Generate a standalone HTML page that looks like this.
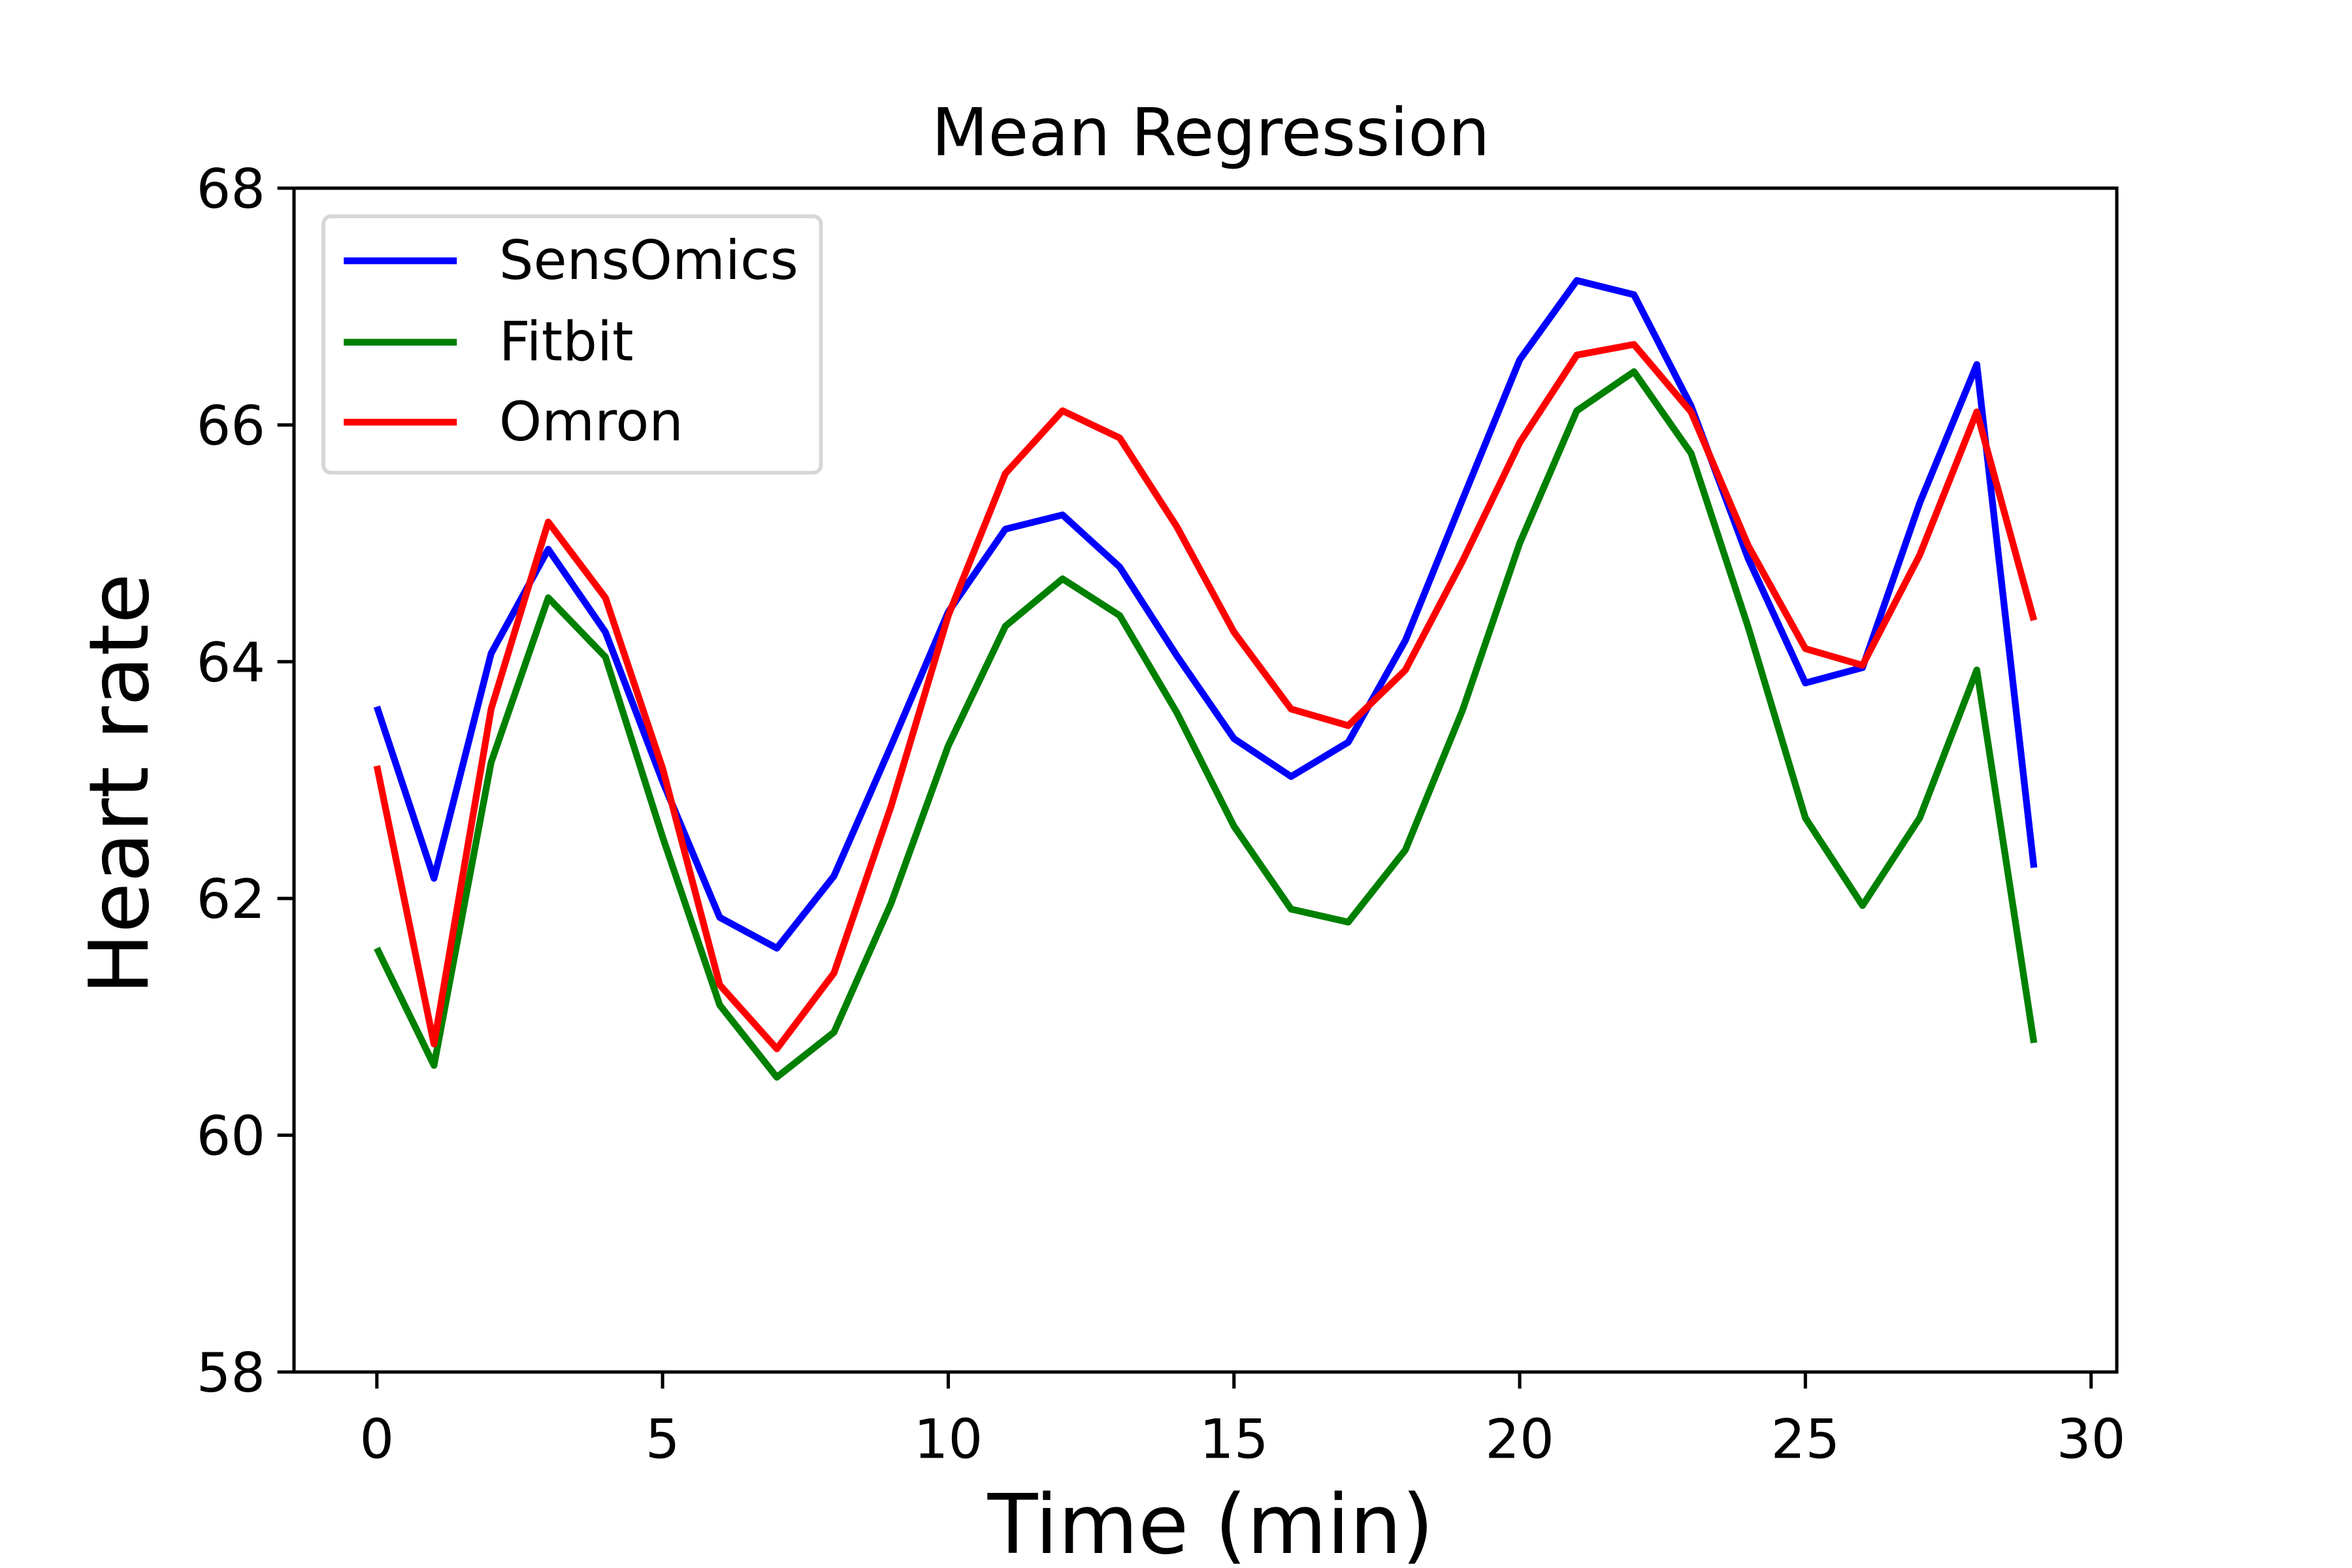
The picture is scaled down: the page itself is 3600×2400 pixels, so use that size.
<!DOCTYPE html>
<html><head><meta charset="utf-8"><style>
html,body{margin:0;padding:0;background:#fff;}
svg{display:block;}
text{font-family:"DejaVu Sans","Liberation Sans",sans-serif;fill:#000;}
</style></head><body>
<svg id="chart" width="3600" height="2400" viewBox="0 0 1560 1040" xmlns="http://www.w3.org/2000/svg">
<rect x="0" y="0" width="1560" height="1040" fill="#fff"/>
<g id="plot"></g>
<text x="803" y="103" font-size="43.5" text-anchor="middle">Mean Regression</text>
<text x="803" y="1030" font-size="54.5" text-anchor="middle">Time (min)</text>
<text x="0" y="0" font-size="54.5" text-anchor="middle" transform="translate(98,520) rotate(-90)">Heart rate</text>
<g>
<rect x="214.5" y="143.5" width="330" height="170" rx="5" fill="#fff" fill-opacity="0.8" stroke="#d6d6d6" stroke-width="2.5"/>
<line x1="228" y1="173" x2="303" y2="173" stroke="#0000ff" stroke-width="4.5"/>
<text x="331" y="185" font-size="36">SensOmics</text>
<line x1="228" y1="227" x2="303" y2="227" stroke="#008000" stroke-width="4.5"/>
<text x="331" y="239" font-size="36">Fitbit</text>
<line x1="228" y1="280" x2="303" y2="280" stroke="#ff0000" stroke-width="4.5"/>
<text x="331" y="292" font-size="36">Omron</text>
</g>
</svg>
<script>
const xValues = [0,1,2,3,4,5,6,7,8,9,10,11,12,13,14,15,16,17,18,19,20,21,22,23,24,25,26,27,28,29];
const sensomics = [63.62,62.17,64.07,64.95,64.25,62.99,61.84,61.58,62.19,63.29,64.42,65.12,65.24,64.80,64.05,63.35,63.03,63.32,64.18,65.37,66.55,67.22,67.10,66.16,64.87,63.82,63.95,65.34,66.51,62.26];
const fitbit = [61.58,60.59,63.15,64.54,64.04,62.52,61.10,60.49,60.87,61.96,63.29,64.30,64.70,64.39,63.57,62.61,61.91,61.80,62.41,63.59,65.00,66.12,66.45,65.76,64.29,62.68,61.94,62.68,63.93,60.78];
const omron = [63.12,60.77,63.60,65.18,64.54,63.10,61.27,60.73,61.37,62.78,64.39,65.59,66.12,65.89,65.14,64.25,63.60,63.46,63.93,64.85,65.85,66.59,66.68,66.11,64.98,64.11,63.97,64.90,66.11,64.35];
const xTicks = [0,5,10,15,20,25,30];
const yTicks = [58,60,62,64,66,68];

const L=195,R=1404,T=124.8,B=910;
const xMin=-1.45,xMax=30.45,yMin=58,yMax=68;
function xs(v){return L+(v-xMin)/(xMax-xMin)*(R-L);}
function ys(v){return B-(v-yMin)/(yMax-yMin)*(B-T);}
const NS="http://www.w3.org/2000/svg";
const g=document.getElementById('plot');
function mk(tag,attrs){const e=document.createElementNS(NS,tag);for(const k in attrs)e.setAttribute(k,attrs[k]);return e;}

xTicks.forEach(t=>{
  const l=mk('line',{x1:xs(t),x2:xs(t),y1:B,y2:B+11,stroke:'#000','stroke-width':2.2});
  
  
  g.appendChild(l);
  const tx=mk('text',{x:xs(t),y:B+57,'font-size':36,'text-anchor':'middle'});
  tx.textContent=t;
  
  
  g.appendChild(tx);
});
yTicks.forEach(t=>{
  const l=mk('line',{x1:L-11,x2:L,y1:ys(t),y2:ys(t),stroke:'#000','stroke-width':2.2});
  
  
  g.appendChild(l);
  const tx=mk('text',{x:L-19,y:ys(t)+13,'font-size':36,'text-anchor':'end'});
  tx.textContent=t;
  
  
  g.appendChild(tx);
});
const seriesList=[['sensomics',sensomics,'#0000ff'],['fitbit',fitbit,'#008000'],['omron',omron,'#ff0000']];
seriesList.forEach(s=>{
  const pts=xValues.map((x,i)=>xs(x).toFixed(2)+','+ys(s[1][i]).toFixed(2)).join(' ');
  const p=mk('polyline',{points:pts,fill:'none',stroke:s[2],'stroke-width':4.5,'stroke-linejoin':'round'});
  
  
  g.appendChild(p);
});
const frame=mk('rect',{x:L,y:T,width:R-L,height:B-T,fill:'none',stroke:'#000','stroke-width':2.2});


g.appendChild(frame);
</script>
</body></html>
